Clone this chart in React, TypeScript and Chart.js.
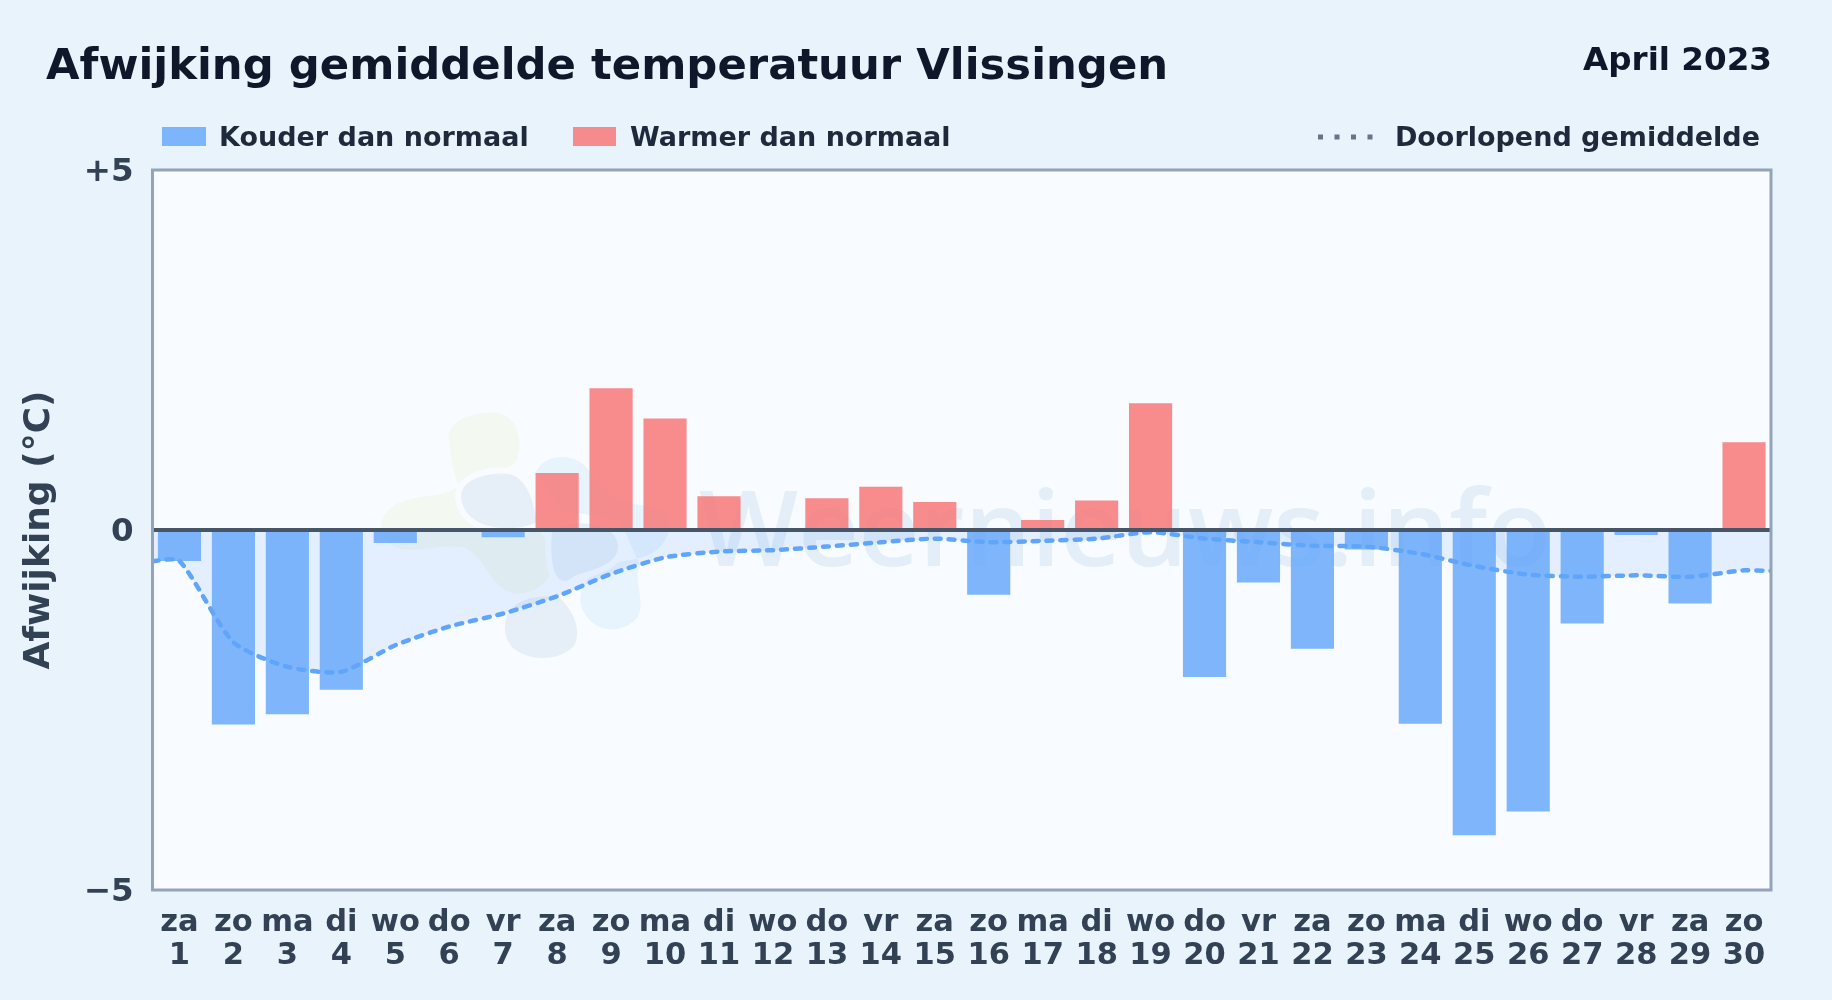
import React, { useEffect, useRef } from "react";
import { Chart, registerables } from "chart.js";

Chart.register(...registerables);

const TITLE = "Afwijking gemiddelde temperatuur Vlissingen";
const PERIOD = "April 2023";
const LEGEND_COLD = "Kouder dan normaal";
const LEGEND_WARM = "Warmer dan normaal";
const LEGEND_MEAN = "Doorlopend gemiddelde";
const Y_TITLE = "Afwijking (°C)";
const WATERMARK = "Weernieuws.info";

const days = [1,2,3,4,5,6,7,8,9,10,11,12,13,14,15,16,17,18,19,20,21,22,23,24,25,26,27,28,29,30];
const weekdays = ["za","zo","ma","di","wo","do","vr","za","zo","ma","di","wo","do","vr","za","zo","ma","di","wo","do","vr","za","zo","ma","di","wo","do","vr","za","zo"];
const anomalies = [-0.43,-2.7,-2.56,-2.22,-0.18,0,-0.1,0.79,1.97,1.55,0.47,0,0.44,0.6,0.39,-0.9,0.14,0.41,1.76,-2.04,-0.73,-1.65,-0.27,-2.69,-4.24,-3.91,-1.3,-0.07,-1.02,1.22];
const runningMean = [-0.43,-1.56,-1.9,-1.97,-1.6,-1.34,-1.16,-0.92,-0.61,-0.38,-0.3,-0.28,-0.23,-0.17,-0.12,-0.17,-0.15,-0.12,-0.03,-0.12,-0.17,-0.22,-0.23,-0.33,-0.5,-0.62,-0.65,-0.63,-0.65,-0.56];
const meanBefore = -0.43;
const meanAfter = -0.57;
const yTicks = [-5, 0, 5];

const BLUE = "rgba(96,165,250,0.8)";
const RED = "rgba(248,113,113,0.8)";
const LINE = "#60a5fa";
const FONT = "'DejaVu Sans', sans-serif";
const PLOT_BG = "#f8fbff";

const absText = (extra: React.CSSProperties): React.CSSProperties => ({
  position: "absolute",
  fontFamily: FONT,
  fontWeight: 700,
  whiteSpace: "nowrap",
  lineHeight: 1,
  ...extra,
});

export default function App() {
  const ref = useRef<HTMLCanvasElement | null>(null);

  useEffect(() => {
    document.body.style.margin = "0";
    document.body.style.overflow = "hidden";
    const frame = {
      id: "frame",
      afterDraw(chart: any) {
        const { ctx, chartArea: a } = chart;
        ctx.save();
        ctx.strokeStyle = "#94a3b8";
        ctx.lineWidth = 3;
        ctx.strokeRect(a.left, a.top, a.right - a.left, a.bottom - a.top);
        ctx.restore();
      },
    };
    const chart = new Chart(ref.current as HTMLCanvasElement, {
      type: "bar",
      plugins: [frame],
      data: {
        datasets: [
          {
            type: "line",
            data: [
              { x: 0.5, y: meanBefore },
              ...days.map((d, i) => ({ x: d, y: runningMean[i] })),
              { x: 30.5, y: meanAfter },
            ],
            borderColor: LINE,
            borderWidth: 4.5,
            borderDash: [6, 8],
            borderCapStyle: "round",
            pointRadius: 0,
            tension: 0.22,
            fill: "origin",
            backgroundColor: "rgba(96,165,250,0.14)",
            order: 1,
          },
          {
            type: "bar",
            data: days.map((d, i) => ({ x: d, y: anomalies[i] })),
            backgroundColor: (c: any) => (c.raw && c.raw.y < 0 ? BLUE : RED),
            borderWidth: 0,
            barPercentage: 0.8,
            categoryPercentage: 1,
            order: 2,
          },
        ],
      } as any,
      options: {
        responsive: false,
        animation: false,
        devicePixelRatio: 1,
        layout: { padding: { top: 170, right: 61, left: 0, bottom: 0 } },
        plugins: { legend: { display: false }, tooltip: { enabled: false }, title: { display: false } },
        scales: {
          x: {
            type: "linear",
            min: 0.5,
            max: 30.5,
            offset: false,
            afterBuildTicks: (axis: any) => {
              axis.ticks = days.map((d) => ({ value: d }));
            },
            afterFit: (axis: any) => {
              axis.height = 110;
            },
            grid: { display: false },
            border: { display: false },
            ticks: {
              autoSkip: false,
              maxRotation: 0,
              minRotation: 0,
              padding: 9,
              color: "#334155",
              font: { family: FONT, weight: "bold", size: 30.5, lineHeight: 1.07 },
              callback: (v: any) => {
                const i = days.indexOf(v);
                return i < 0 ? "" : [weekdays[i], String(days[i])];
              },
            },
          },
          y: {
            min: -5,
            max: 5,
            afterBuildTicks: (axis: any) => {
              axis.ticks = yTicks.map((v) => ({ value: v }));
            },
            afterFit: (axis: any) => {
              axis.width = 152.5;
            },
            border: { display: false },
            grid: {
              z: 1,
              drawTicks: false,
              lineWidth: 4,
              color: (c: any) => (c.tick && c.tick.value === 0 ? "#475569" : "rgba(0,0,0,0)"),
            },
            title: {
              display: true,
              text: Y_TITLE,
              color: "#334155",
              padding: { top: 18, bottom: 0 },
              font: { family: FONT, weight: "bold", size: 36 },
            },
            ticks: {
              padding: 19,
              labelOffset: 2.5,
              color: "#334155",
              font: { family: FONT, weight: "bold", size: 32.5 },
              callback: (v: any) => (v > 0 ? "+" + v : v < 0 ? "\u2212" + Math.abs(v) : "0"),
            },
          },
        },
      } as any,
    });
    return () => chart.destroy();
  }, []);

  return (
    <div style={{ position: "relative", width: 1832, height: 1000, overflow: "hidden", background: "#e8f3fc" }}>
      <svg width={1832} height={1000} style={{ position: "absolute", left: 0, top: 0 }}>
        <rect x={152} y={170} width={1619} height={720} fill={PLOT_BG} />
        <path d="M449 440 C446 418 478 411 497 413 C518 416 522 442 518 456 C514 472 495 468 480 472 C466 476 464 486 448 492 C430 498 405 496 391 508 C375 522 380 542 398 548 C420 554 445 542 465 548 C484 556 490 586 512 593 C532 597 554 582 554 558 C552 530 500 500 460 490 C452 470 451 455 449 440 Z" fill="#f3f8f1" />
        <path d="M536 472 C545 452 578 452 590 472 C600 492 622 505 650 506 C676 510 674 538 654 552 C640 561 620 560 604 566 C588 574 576 592 582 608 C592 634 624 636 638 616 C646 598 632 582 640 566 L620 520 L560 510 Z" fill="#e7f3fd" />
        <path d="M461 498 C460 478 490 472 507 474 C528 476 534 505 537 522 C520 532 466 534 461 498 Z M552 530 C575 518 617 522 618 546 C618 566 590 570 574 576 C560 590 548 575 552 530 Z M506 618 C514 598 540 594 560 598 C574 612 582 630 574 646 C556 664 524 660 511 646 C504 636 504 628 506 618 Z" fill="#e6eff8" stroke={PLOT_BG} strokeWidth={12} paintOrder="stroke" />
        <text x={699} y={566} fontFamily="'Open Sans', sans-serif" fontWeight={600} fontSize={105} fill="#e4eef9">{WATERMARK}</text>
      </svg>
      <canvas ref={ref} width={1832} height={1000} style={{ position: "absolute", left: 0, top: 0, display: "block" }} />
      <div style={absText({ left: 46, top: 42.5, fontSize: 43.35, color: "#0f172a" })}>{TITLE}</div>
      <div style={absText({ right: 60, top: 43, fontSize: 32.6, color: "#0f172a" })}>{PERIOD}</div>
      <div style={{ position: "absolute", left: 162, top: 127, width: 44, height: 19, background: BLUE }} />
      <div style={absText({ left: 219, top: 122.5, fontSize: 27, color: "#1e293b" })}>{LEGEND_COLD}</div>
      <div style={{ position: "absolute", left: 573, top: 127, width: 43, height: 19, background: RED }} />
      <div style={absText({ left: 630, top: 122.5, fontSize: 27, color: "#1e293b" })}>{LEGEND_WARM}</div>
      <svg width={60} height={10} style={{ position: "absolute", left: 1316, top: 132 }}>
        <line x1={2} y1={5} x2={58} y2={5} stroke="#64748b" strokeWidth={5} strokeDasharray="5 11.5" />
      </svg>
      <div style={absText({ right: 72, top: 122.5, fontSize: 27, color: "#1e293b" })}>{LEGEND_MEAN}</div>
    </div>
  );
}
